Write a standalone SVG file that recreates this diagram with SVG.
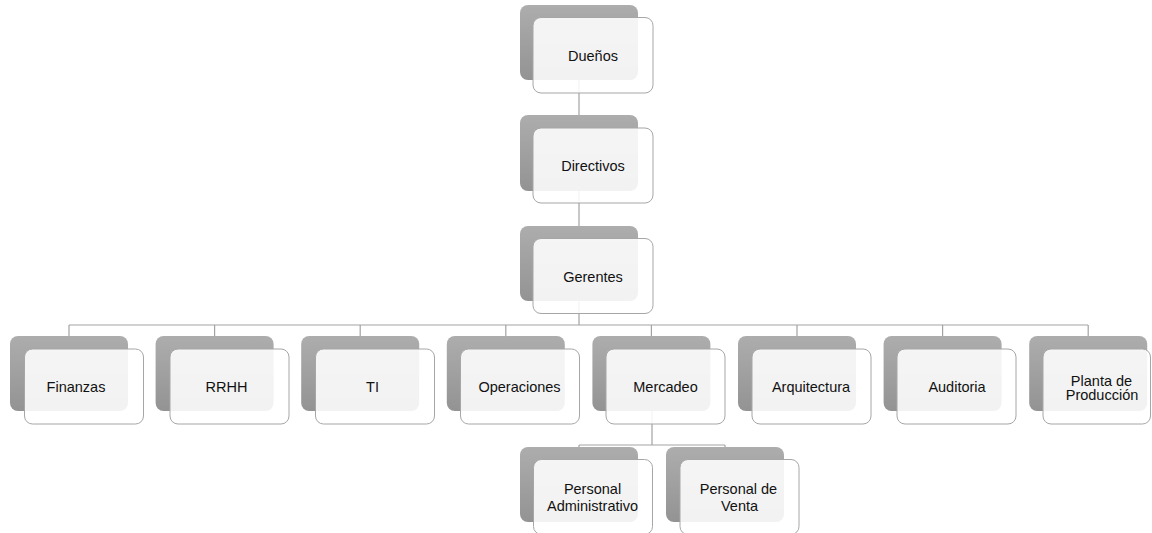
<svg xmlns="http://www.w3.org/2000/svg" width="1152" height="533" viewBox="0 0 1152 533">
<style>
.bk{fill:url(#g)}
.fr{fill:#ffffff;fill-opacity:0.88;stroke:#a6a6a6;stroke-width:1}
.t{font-family:"Liberation Sans",Arial,sans-serif;font-size:14.5px;fill:#111111;text-anchor:middle}
.c{stroke:#a3a3a3;stroke-width:1.2;fill:none}
</style>
<defs>
<linearGradient id="g" x1="0" y1="0" x2="0" y2="1">
<stop offset="0" stop-color="#adadad"/>
<stop offset="1" stop-color="#939393"/>
</linearGradient>
</defs>
<rect width="1152" height="533" fill="#ffffff"/>
<g id="connectors">
<path class="c" d="M579 80V115M579 190V226M579 301V325M69 325H1088M69 325V336M214.6 325V336M360.2 325V336M505.8 325V336M651.4 325V336M797 325V336M942.6 325V336M1088.2 325V336M652 411V445M579 445H725M579 445V447M725 445V447"/>
</g>
<g id="n-duenos"><rect class="bk" x="520" y="5" width="118" height="75" rx="8"/><rect class="fr" x="533" y="17.5" width="120" height="75.5" rx="8"/><text class="t" x="593" y="60.5">Dueños</text></g>
<g id="n-directivos"><rect class="bk" x="520" y="115" width="118" height="76" rx="8"/><rect class="fr" x="533" y="128" width="120" height="75" rx="8"/><text class="t" x="593" y="171">Directivos</text></g>
<g id="n-gerentes"><rect class="bk" x="520" y="226" width="118" height="75" rx="8"/><rect class="fr" x="533" y="238.5" width="120" height="75" rx="8"/><text class="t" x="593" y="281.5">Gerentes</text></g>
<g id="n-finanzas"><rect class="bk" x="10" y="336" width="118" height="75" rx="8"/><rect class="fr" x="24.5" y="349" width="119" height="75" rx="8"/><text class="t" x="76" y="392">Finanzas</text></g>
<g id="n-rrhh"><rect class="bk" x="155.6" y="336" width="118" height="75" rx="8"/><rect class="fr" x="170" y="349" width="119" height="75" rx="8"/><text class="t" x="226.5" y="392">RRHH</text></g>
<g id="n-ti"><rect class="bk" x="301.2" y="336" width="118" height="75" rx="8"/><rect class="fr" x="315.5" y="349" width="119" height="75" rx="8"/><text class="t" x="372.5" y="392">TI</text></g>
<g id="n-operaciones"><rect class="bk" x="446.8" y="336" width="118" height="75" rx="8"/><rect class="fr" x="460.5" y="349" width="119" height="75" rx="8"/><text class="t" x="519.5" y="392">Operaciones</text></g>
<g id="n-mercadeo"><rect class="bk" x="592.4" y="336" width="118" height="75" rx="8"/><rect class="fr" x="606" y="349" width="119" height="75" rx="8"/><text class="t" x="665.5" y="392">Mercadeo</text></g>
<g id="n-arquitectura"><rect class="bk" x="738" y="336" width="118" height="75" rx="8"/><rect class="fr" x="752" y="349" width="119" height="75" rx="8"/><text class="t" x="811" y="392">Arquitectura</text></g>
<g id="n-auditoria"><rect class="bk" x="883.6" y="336" width="118" height="75" rx="8"/><rect class="fr" x="897" y="349" width="119" height="75" rx="8"/><text class="t" x="957" y="392">Auditoria</text></g>
<g id="n-planta"><rect class="bk" x="1029.2" y="336" width="118" height="75" rx="8"/><rect class="fr" x="1043" y="349" width="107.5" height="75" rx="8"/><text class="t" x="1101.5" y="385.5">Planta de</text><text class="t" x="1102" y="400">Producción</text></g>
<g id="n-pers-admin"><rect class="bk" x="520" y="447" width="118" height="75" rx="8"/><rect class="fr" x="533.5" y="459.5" width="119" height="75" rx="8"/><text class="t" x="592.5" y="494">Personal</text><text class="t" x="592.5" y="510.5">Administrativo</text></g>
<g id="n-pers-venta"><rect class="bk" x="666" y="447" width="118" height="75" rx="8"/><rect class="fr" x="680" y="459.5" width="119" height="75" rx="8"/><text class="t" x="738.5" y="494">Personal de</text><text class="t" x="739.5" y="510.5">Venta</text></g>
</svg>
